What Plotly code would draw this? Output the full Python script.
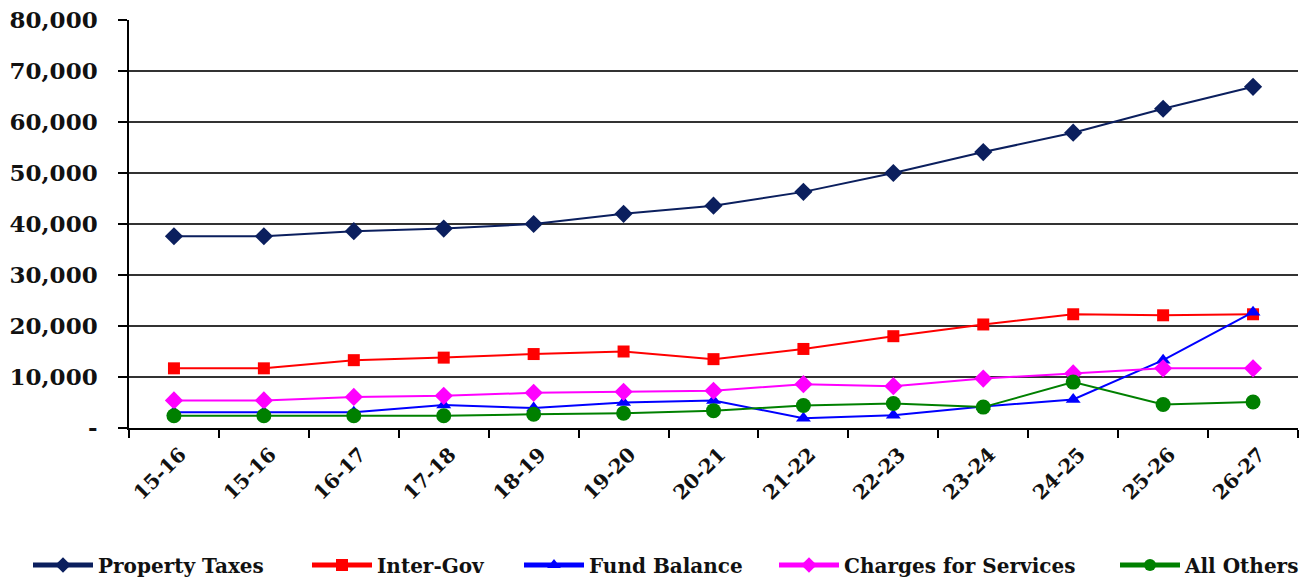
import plotly.graph_objects as go

# Fiscal-year categories (the first year appears twice in the source schedule)
categories = ["15-16", "15-16", "16-17", "17-18", "18-19", "19-20", "20-21",
              "21-22", "22-23", "23-24", "24-25", "25-26", "26-27"]

property_taxes = [37600, 37600, 38600, 39100, 40000, 42000, 43600,
                  46300, 50000, 54100, 57900, 62600, 66900]
inter_gov = [11700, 11700, 13300, 13800, 14500, 15000, 13500,
             15500, 18000, 20300, 22300, 22100, 22300]
fund_balance = [3100, 3100, 3100, 4500, 3900, 5000, 5400,
                1900, 2500, 4200, 5600, 13300, 22700]
charges_for_services = [5400, 5400, 6100, 6300, 6900, 7100, 7300,
                        8600, 8200, 9700, 10700, 11700, 11700]
all_others = [2400, 2400, 2400, 2400, 2700, 2900, 3400,
              4400, 4800, 4100, 9000, 4600, 5100]

y_tick_values = [0, 10000, 20000, 30000, 40000, 50000, 60000, 70000, 80000]
y_tick_labels = ["-", "10,000", "20,000", "30,000", "40,000",
                 "50,000", "60,000", "70,000", "80,000"]

x_pos = list(range(len(categories)))
# rotated labels sit with their end just right of each category centre
label_pos = [p + 0.07 for p in x_pos]

# name, values, colour, marker symbol, marker size, legend id, legend left edge (px)
series = [
    ("Property Taxes", property_taxes, "#0B1F5E", "diamond", 14, "legend", 28),
    ("Inter-Gov", inter_gov, "#FF0000", "square", 12, "legend2", 307),
    ("Fund Balance", fund_balance, "#0000FF", "triangle-up", 13, "legend3", 519),
    ("Charges for Services", charges_for_services, "#FF00FF", "diamond", 14, "legend4", 774),
    ("All Others", all_others, "#008000", "circle", 15, "legend5", 1115),
]

W, H = 1314, 579
serif = "DejaVu Serif"

fig = go.Figure()
legend_layouts = {}
for name, values, color, symbol, size, legend_id, left_px in series:
    fig.add_trace(go.Scatter(
        x=x_pos, y=values, name=name, mode="lines+markers",
        line=dict(color=color, width=2),
        marker=dict(symbol=symbol, size=size, color=color),
        legend=legend_id,
    ))
    legend_layouts[legend_id] = dict(
        xref="container", yref="container",
        x=left_px / W, xanchor="left", y=(H - 565) / H, yanchor="middle",
        font=dict(family=serif, size=20, color="#111111", weight="bold"),
        itemwidth=60, itemsizing="constant",
        bgcolor="rgba(0,0,0,0)", borderwidth=0,
    )

fig.update_layout(
    width=W, height=H,
    margin=dict(l=129, r=16, t=20, b=151, autoexpand=False),
    paper_bgcolor="white", plot_bgcolor="white",
    showlegend=True,
    **legend_layouts,
)

fig.update_xaxes(
    range=[-0.5, len(categories) - 0.5], automargin=False,
    tickmode="array", tickvals=label_pos, ticktext=categories,
    tickangle=-45, ticks="", showgrid=False, zeroline=False,
    showline=True, linecolor="#000000", linewidth=1.5,
    ticklabelstandoff=5,
    tickfont=dict(family=serif, size=20, color="#111111", weight="bold"),
    minor=dict(tick0=0.5, dtick=1, ticks="outside", ticklen=8,
               tickcolor="#000000", tickwidth=1.5, showgrid=False),
)

fig.update_yaxes(
    range=[0, 80000], automargin=False,
    tickmode="array", tickvals=y_tick_values, ticktext=y_tick_labels,
    ticks="outside", ticklen=9, tickcolor="#000000", tickwidth=1.5,
    showgrid=True, gridcolor="#333333", gridwidth=1.5,
    zeroline=False, showline=True, linecolor="#000000", linewidth=1.5,
    ticklabelstandoff=16,
    tickfont=dict(family=serif, size=23, color="#111111", weight="bold"),
)

fig.write_html("out.html")
